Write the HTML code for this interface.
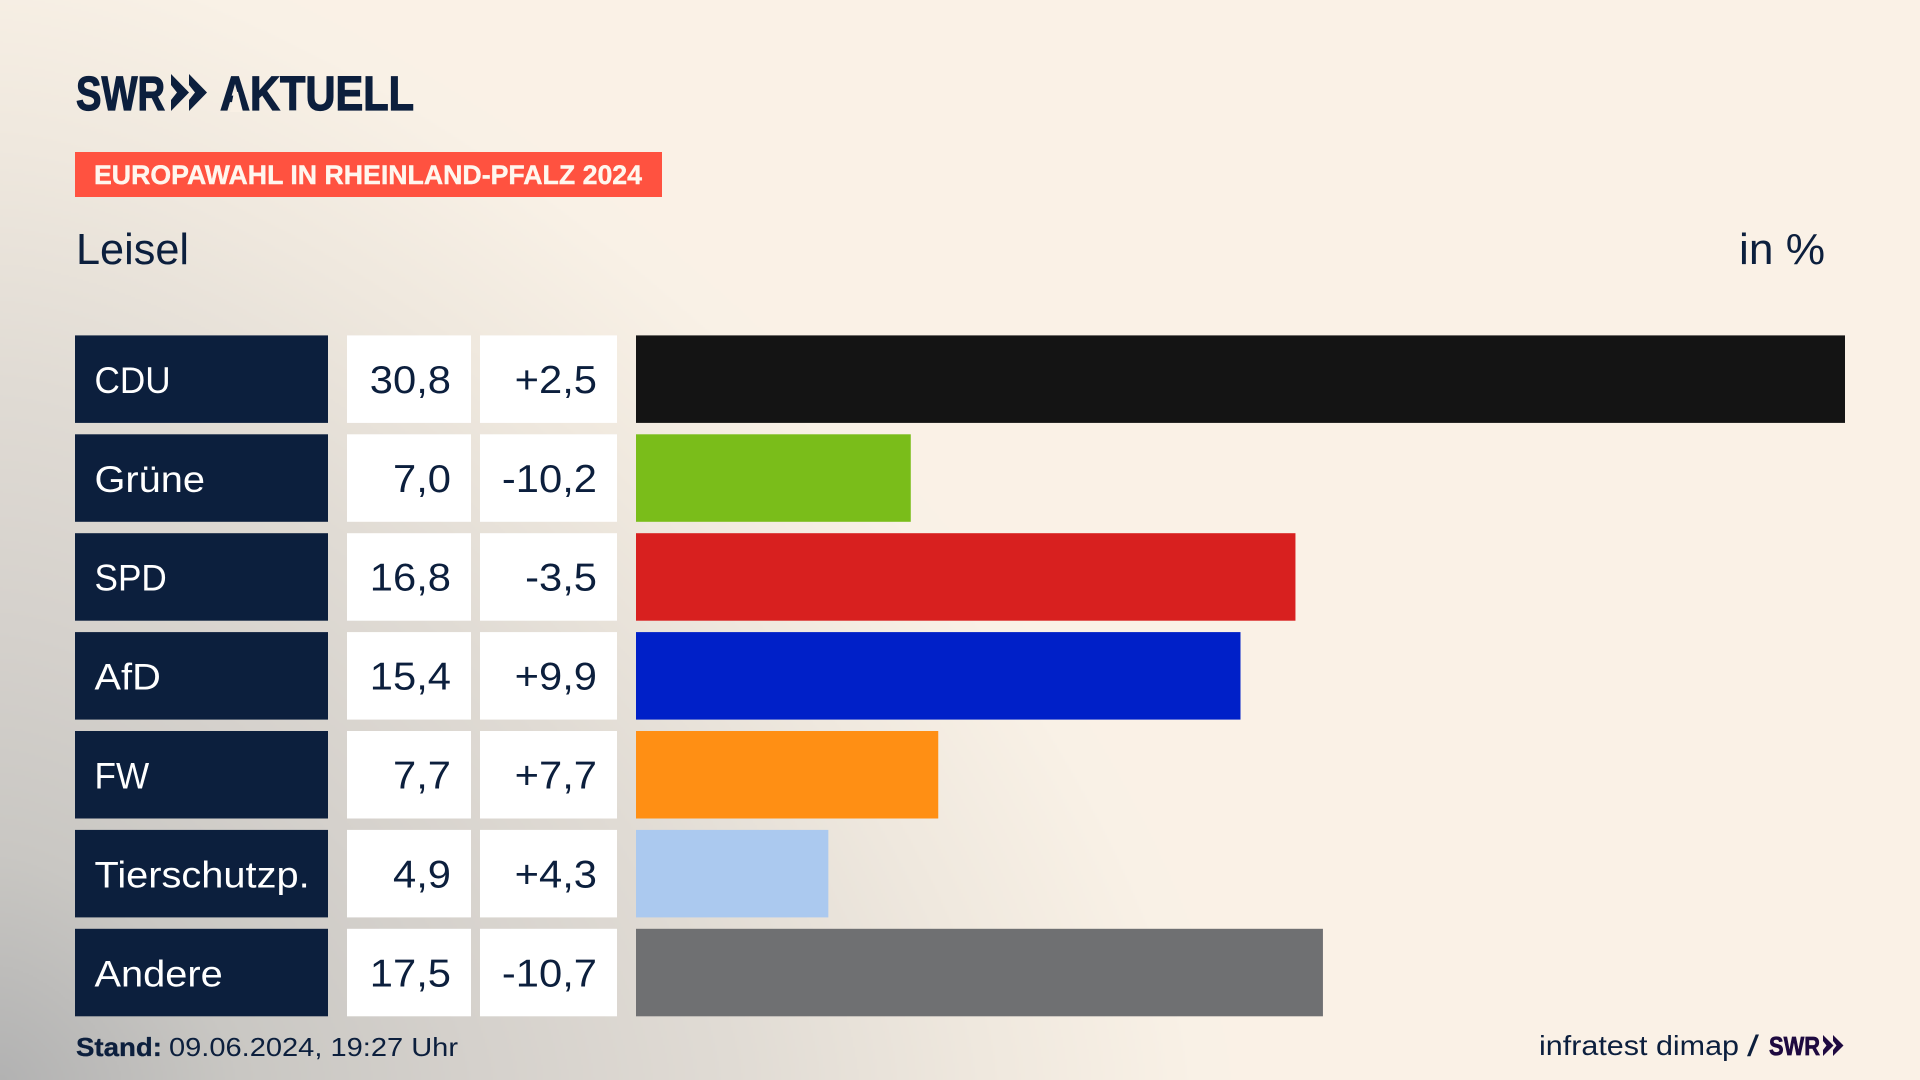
<!DOCTYPE html>
<html lang="de">
<head>
<meta charset="utf-8">
<title>Europawahl in Rheinland-Pfalz 2024 – Leisel</title>
<style>
  html, body { margin: 0; padding: 0; width: 1920px; height: 1080px; overflow: hidden; background: #FAF1E6; }
  #background { position: absolute; left: 0; top: 0; width: 1920px; height: 1080px; display: block; }
  svg { position: absolute; left: 0; top: 0; font-family: "Liberation Sans", sans-serif; }
  text { fill: #0C1F3D; }
</style>
</head>
<body>
<canvas id="background" width="960" height="540"></canvas>
<svg id="chart" width="1920" height="1080" viewBox="0 0 1920 1080" xmlns="http://www.w3.org/2000/svg">
  <g>
    <text x="76" y="110" font-size="48" font-weight="700" textLength="89" lengthAdjust="spacingAndGlyphs" stroke="#0C1F3D" stroke-width="1.2">SWR</text>
    <polygon points="171,74 189,92.5 171,111 171,100 177,92.5 171,85" fill="#0C1F3D"/>
    <polygon points="189,74 207,92.5 189,111 189,100 195,92.5 189,85" fill="#0C1F3D"/>
    <text x="220" y="110" font-size="48" font-weight="700" textLength="194" lengthAdjust="spacingAndGlyphs" stroke="#0C1F3D" stroke-width="1.2">AKTUELL</text>
    <polygon points="234,92 238,92 243,112 230,112" fill="#F9F0E5"/>
  </g>
  <rect x="75" y="152" width="587" height="45" fill="#FF5240"/>
  <text x="94" y="184" font-size="26.5" font-weight="700" textLength="548" lengthAdjust="spacingAndGlyphs" style="fill:#FFF6EE" stroke="#FFF6EE" stroke-width="0.4">EUROPAWAHL IN RHEINLAND-PFALZ 2024</text>
  <text x="76" y="264" font-size="44" textLength="113" lengthAdjust="spacingAndGlyphs">Leisel</text>
  <text x="1739" y="264" font-size="44" textLength="86" lengthAdjust="spacingAndGlyphs">in %</text>
  <g id="rows"></g>
  <text x="76" y="1056" font-size="26" font-weight="700" textLength="86" lengthAdjust="spacingAndGlyphs" stroke="#0C1F3D" stroke-width="0.3">Stand:</text>
  <text x="169" y="1056" font-size="26" textLength="289" lengthAdjust="spacingAndGlyphs">09.06.2024, 19:27 Uhr</text>
  <text x="1539" y="1055" font-size="28" textLength="200" lengthAdjust="spacingAndGlyphs">infratest dimap</text>
  <text x="1747" y="1056" font-size="30" textLength="12" lengthAdjust="spacingAndGlyphs">/</text>
  <text x="1769" y="1055" font-size="26" font-weight="700" textLength="51" lengthAdjust="spacingAndGlyphs" style="fill:#1E0A40" stroke="#1E0A40" stroke-width="0.7">SWR</text>
  <polygon points="1823,1035 1833.5,1045.5 1823,1056 1823,1050 1826.5,1045.5 1823,1041" fill="#1E0A40"/>
  <polygon points="1833,1035 1843.5,1045.5 1833,1056 1833,1050 1836.5,1045.5 1833,1041" fill="#1E0A40"/>
</svg>
<script>
const parties = ["CDU", "Grüne", "SPD", "AfD", "FW", "Tierschutzp.", "Andere"];
const shares = [30.8, 7.0, 16.8, 15.4, 7.7, 4.9, 17.5];
const changes = [2.5, -10.2, -3.5, 9.9, 7.7, 4.3, -10.7];
const barColors = ["#141414", "#7ABD1A", "#D8201F", "#0020C8", "#FF8F14", "#ABC9EF", "#6F7072"];

const NS = "http://www.w3.org/2000/svg";
const rowsGroup = document.getElementById("rows");
const domainMax = 30.8;
const plotLeft = 636;
const plotWidth = 1209;
const rowTop = 335.4;
const rowStep = 98.9;
const rowHeight = 87.5;

function paintBackground() {
  const canvas = document.getElementById("background");
  const ctx = canvas.getContext("2d");
  const w = canvas.width, h = canvas.height;
  const img = ctx.createImageData(w, h);
  const stops = [
    [0, 178, 178, 178], [0.19, 201, 199, 195], [0.38, 213, 209, 204],
    [0.58, 224, 219, 212], [0.78, 239, 232, 222], [0.95, 249, 241, 230], [1, 250, 241, 230]
  ];
  for (let py = 0; py < h; py++) {
    for (let px = 0; px < w; px++) {
      const nx = (px * 2) / 1260;
      const ny = (1080 - py * 2) / 1200;
      const t = Math.min(1, Math.pow(Math.pow(nx, 1.5) + Math.pow(ny, 1.5), 2 / 3));
      let k = 0;
      while (k < stops.length - 2 && t > stops[k + 1][0]) k++;
      const a = stops[k], b = stops[k + 1];
      const f = (t - a[0]) / (b[0] - a[0]);
      const o = (py * w + px) * 4;
      img.data[o] = a[1] + (b[1] - a[1]) * f;
      img.data[o + 1] = a[2] + (b[2] - a[2]) * f;
      img.data[o + 2] = a[3] + (b[3] - a[3]) * f;
      img.data[o + 3] = 255;
    }
  }
  ctx.putImageData(img, 0, 0);
}
paintBackground();

function xScale(value) {
  return plotWidth * value / domainMax;
}
function yScale(index) {
  return rowTop + rowStep * index;
}
function formatShare(value) {
  return value.toFixed(1).replace(".", ",");
}
function formatChange(value) {
  return (value > 0 ? "+" : "") + value.toFixed(1).replace(".", ",");
}
function makeRect(x, y, w, h, fill) {
  const r = document.createElementNS(NS, "rect");
  r.setAttribute("x", x);
  r.setAttribute("y", y);
  r.setAttribute("width", Math.max(0, w));
  r.setAttribute("height", h);
  r.setAttribute("fill", fill);
  return r;
}
function makeText(x, y, content, anchor, stretch, fill, size) {
  const t = document.createElementNS(NS, "text");
  t.setAttribute("transform", "translate(" + x + "," + y + ") scale(" + stretch + ",1)");
  t.setAttribute("text-anchor", anchor);
  t.setAttribute("font-size", size);
  t.style.fill = fill;
  t.textContent = content;
  return t;
}

parties.forEach(function (party, i) {
  const y = yScale(i);
  const baseline = y + 57.5;

  const labelBox = makeRect(75, y, 253, rowHeight, "#0C1F3D");
  
  
  rowsGroup.appendChild(labelBox);

  const labelStretch = /^[A-ZÄÖÜ]+$/.test(party) ? 0.95 : 1.075;
  const label = makeText(94.5, baseline, party, "start", labelStretch, "#FFFFFF", 37);
  
  
  rowsGroup.appendChild(label);

  const shareBox = makeRect(347, y, 124, rowHeight, "#FFFFFF");
  
  
  rowsGroup.appendChild(shareBox);

  const share = makeText(451, baseline, formatShare(shares[i]), "end", 1.07, "#0C1F3D", 39);
  
  
  rowsGroup.appendChild(share);

  const changeBox = makeRect(480, y, 137, rowHeight, "#FFFFFF");
  
  
  rowsGroup.appendChild(changeBox);

  const change = makeText(597, baseline, formatChange(changes[i]), "end", 1.07, "#0C1F3D", 39);
  
  
  rowsGroup.appendChild(change);

  const bar = makeRect(plotLeft, y, xScale(shares[i]), rowHeight, barColors[i]);
  
  
  rowsGroup.appendChild(bar);
});
</script>
</body>
</html>
